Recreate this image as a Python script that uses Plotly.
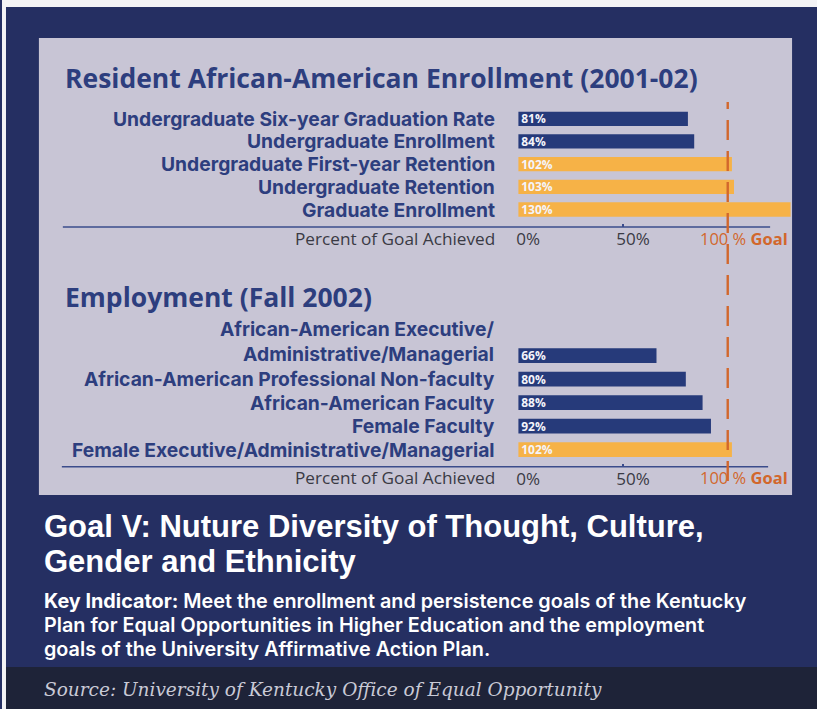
import plotly.graph_objects as go

# ---------------- data ----------------
section1_title = "Resident African-American Enrollment (2001-02)"
cat1 = [
    "Undergraduate Six-year Graduation Rate",
    "Undergraduate Enrollment",
    "Undergraduate First-year Retention",
    "Undergraduate Retention",
    "Graduate Enrollment",
]
val1 = [81, 84, 102, 103, 130]

section2_title = "Employment (Fall 2002)"
cat2 = [
    "African-American Executive/<br>Administrative/Managerial",
    "African-American Professional Non-faculty",
    "African-American Faculty",
    "Female Faculty",
    "Female Executive/Administrative/Managerial",
]
val2 = [66, 80, 88, 92, 102]

tick_vals = [0, 50]
tick_text = ["0%", "50%"]
goal_value = 100
axis_title = "Percent of Goal Achieved"

goal_heading_lines = ["Goal V: Nuture Diversity of Thought, Culture,", "Gender and Ethnicity"]
key_indicator_lines = [
    "<b>Key Indicator:</b> Meet the enrollment and persistence goals of the Kentucky",
    "Plan for Equal Opportunities in Higher Education and the employment",
    "goals of the University Affirmative Action Plan.",
]
source_text = "Source: University of Kentucky Office of Equal Opportunity"

# ---------------- styling ----------------
W, H = 817, 709
NAVY_BG = "#252f62"
BOX = "#c8c5d5"
BOTTOM = "#1e2338"
LABEL = "#2d3e7e"
NAVY_BAR = "#263a7a"
ORANGE_BAR = "#f6b247"
GOAL = "#d2672c"
TICK = "#3a3a44"
AXLINE = "#3b4c8b"
FONT = "Open Sans"
FONT2 = "Inter"
FONT3 = "Liberation Sans"


def px(x):
    return x / W


def py(y):
    return 1 - y / H


def colors(vals):
    return [ORANGE_BAR if v >= goal_value else NAVY_BAR for v in vals]


x0_px, x1_px, scale = 517.5, 795.0, 2.1
xrange_max = (x1_px - x0_px) / scale

fig = go.Figure()

for i, (cats, vals) in enumerate([(cat1, val1), (cat2, val2)]):
    suffix = "" if i == 0 else "2"
    fig.add_trace(go.Bar(
        y=cats, x=vals, orientation="h",
        marker=dict(color=colors(vals), line=dict(width=0)),
        width=0.63,
        text=[f"{v}%" for v in vals],
        textposition="inside", insidetextanchor="start", constraintext="none",
        textfont=dict(family=FONT, size=12, color="#f4f4fa", weight="bold"),
        xaxis="x" + suffix, yaxis="y" + suffix,
        showlegend=False, hoverinfo="skip", cliponaxis=False,
    ))

# y domains (pixel based): chart1 centers 116.7..211.7, chart2 355.7..451.7
y1_top, y1_bot = 104.8, 223.5
y2_top, y2_bot = 343.7, 463.7
axis1_y, axis2_y = 227.0, 466.7

common_x = dict(
    range=[0, xrange_max], domain=[px(x0_px), px(x1_px)],
    showgrid=False, zeroline=False, showline=False,
    tickvals=tick_vals, ticktext=tick_text,
    tickfont=dict(family=FONT, size=17, color=TICK),
    ticks="inside", ticklen=3, tickwidth=2, tickcolor=AXLINE,
    ticklabelshift=10, anchor="free", fixedrange=True,
)
common_y = dict(type="category", autorange="reversed", showticklabels=False,
                showgrid=False, zeroline=False, showline=False, fixedrange=True)

fig.update_layout(
    width=W, height=H,
    margin=dict(l=0, r=0, t=0, b=0),
    paper_bgcolor=NAVY_BG, plot_bgcolor="rgba(0,0,0,0)",
    xaxis=dict(**common_x, position=py(axis1_y)),
    yaxis=dict(**common_y, domain=[py(y1_bot), py(y1_top)]),
    xaxis2=dict(**common_x, position=py(axis2_y)),
    yaxis2=dict(**common_y, domain=[py(y2_bot), py(y2_top)]),
)

shapes = [
    # light panel
    dict(type="rect", xref="paper", yref="paper", x0=px(37), x1=px(792), y0=py(495), y1=py(38),
         fillcolor=BOX, line=dict(width=0), layer="below"),
    # bottom source strip
    dict(type="rect", xref="paper", yref="paper", x0=0, x1=1, y0=0, y1=py(667),
         fillcolor=BOTTOM, line=dict(width=0), layer="below"),
    # white page edges
    dict(type="rect", xref="paper", yref="paper", x0=0, x1=1, y0=py(7), y1=1,
         fillcolor="#f3f3f5", line=dict(width=0), layer="below"),
    dict(type="rect", xref="paper", yref="paper", x0=0, x1=px(4), y0=0, y1=1,
         fillcolor="#f3f3f5", line=dict(width=0), layer="below"),
    # axis baselines
    dict(type="line", xref="paper", yref="paper", x0=px(61), x1=px(770), y0=py(axis1_y), y1=py(axis1_y),
         line=dict(color=AXLINE, width=1.6)),
    dict(type="line", xref="paper", yref="paper", x0=px(60), x1=px(768), y0=py(axis2_y), y1=py(axis2_y),
         line=dict(color=AXLINE, width=1.6)),
    # goal line
    dict(type="line", xref="x", yref="paper", x0=goal_value, x1=goal_value, y0=py(481), y1=py(102),
         line=dict(color=GOAL, width=2.4, dash="20px,11px"), layer="above"),
]
fig.update_layout(shapes=shapes)

ann = []
# section titles
for title, yc in [(section1_title, 78), (section2_title, 297)]:
    ann.append(dict(text=title, xref="paper", yref="paper", x=px(61), y=py(yc),
                    xanchor="left", yanchor="middle", showarrow=False,
                    font=dict(family=FONT, size=26.5, color=LABEL, weight="bold")))

# category labels
for cats, yref in [(cat1, "y"), (cat2, "y2")]:
    for c in cats:
        a = dict(text=c, xref="paper", yref=yref, x=px(496), y=c, xanchor="right",
                 yanchor="middle", showarrow=False, align="right",
                 font=dict(family=FONT2, size=19.3, color=LABEL, weight="bold"))
        if "<br>" in c:
            a.update(yanchor="bottom", yshift=-12)
        ann.append(a)

# axis titles and goal text
for yc, xref in [(238.5, "x"), (477.5, "x2")]:
    ann.append(dict(text=axis_title, xref="paper", yref="paper", x=px(496), y=py(yc),
                    xanchor="right", yanchor="middle", showarrow=False,
                    font=dict(family=FONT, size=17.2, color=TICK)))
    ann.append(dict(text=f"{goal_value} % <b>Goal</b>", xref=xref, yref="paper", x=goal_value, y=py(yc),
                    xanchor="left", yanchor="middle", xshift=-30, showarrow=False,
                    font=dict(family=FONT, size=16.5, color=GOAL)))

# bottom block
for line, yc in zip(goal_heading_lines, [526.5, 561.5]):
    ann.append(dict(text=line, xref="paper", yref="paper", x=px(40), y=py(yc),
                    xanchor="left", yanchor="middle", align="left", showarrow=False,
                    font=dict(family=FONT3, size=31, color="#ffffff", weight="bold")))
for line, yc in zip(key_indicator_lines, [601, 625, 649]):
    ann.append(dict(text=line, xref="paper", yref="paper", x=px(40), y=py(yc),
                    xanchor="left", yanchor="middle", align="left", showarrow=False,
                    font=dict(family=FONT2, size=19.8, color="#ffffff", weight=600)))
ann.append(dict(text=source_text, xref="paper", yref="paper", x=px(40), y=py(689),
                xanchor="left", yanchor="middle", showarrow=False,
                font=dict(family="DejaVu Serif", size=18.5, color="#c9cad6", style="italic")))

fig.update_layout(annotations=ann)

fig.write_html(
    "out.html",
    config={"displayModeBar": False},
    post_script="document.body.style.margin='0';document.body.style.overflow='hidden';",
)
